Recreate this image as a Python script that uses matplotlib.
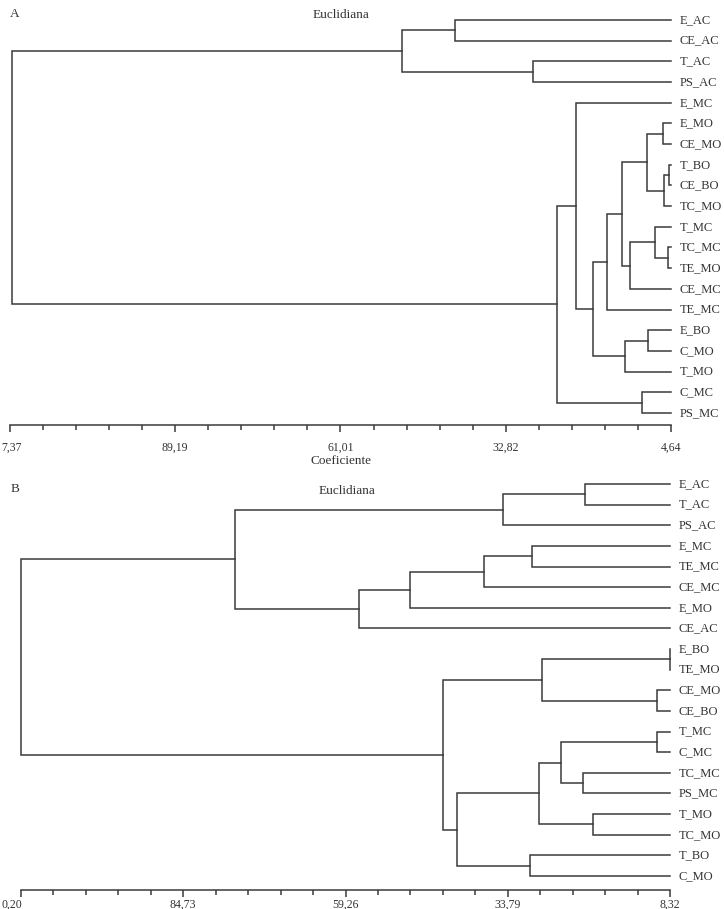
import numpy as np
import matplotlib
matplotlib.use("Agg")
import matplotlib.pyplot as plt
import matplotlib.transforms as mtransforms
from matplotlib.ticker import FixedLocator

plt.rcParams['font.family'] = ['Liberation Serif', 'DejaVu Serif']

COR = '#3a3a3a'
LW = 1.1

# ---------------- Dendrograma A ----------------
folhas_a = ['E_AC', 'CE_AC', 'T_AC', 'PS_AC', 'E_MC', 'E_MO', 'CE_MO', 'T_BO', 'CE_BO', 'TC_MO',
            'T_MC', 'TC_MC', 'TE_MO', 'CE_MC', 'TE_MC', 'E_BO', 'C_MO', 'T_MO', 'C_MC', 'PS_MC']
# (filho 1, filho 2, coeficiente) -> inteiro = indice de uma fusao anterior
fusoes_a = [
    ('E_AC', 'CE_AC', 41.48),   # 0
    ('T_AC', 'PS_AC', 28.18),   # 1
    (0, 1, 50.52),              # 2
    ('E_MO', 'CE_MO', 6.00),    # 3
    ('T_BO', 'CE_BO', 4.98),    # 4
    (4, 'TC_MO', 5.75),         # 5
    (3, 5, 8.73),               # 6
    ('TC_MC', 'TE_MO', 5.07),   # 7
    ('T_MC', 7, 7.37),          # 8
    (8, 'CE_MC', 11.63),        # 9
    (6, 9, 13.05),              # 10
    (10, 'TE_MC', 15.55),       # 11
    ('E_BO', 'C_MO', 8.51),     # 12
    (12, 'T_MO', 12.48),        # 13
    (11, 13, 17.89),            # 14
    ('E_MC', 14, 20.84),        # 15
    ('C_MC', 'PS_MC', 9.64),    # 16
    (15, 16, 24.03),            # 17
    (2, 17, 117.11),            # 18
]
escala_a = [117.37, 89.19, 61.01, 32.82, 4.64]
# o primeiro rotulo aparece cortado na figura original
rotulos_a = ['7,37', '89,19', '61,01', '32,82', '4,64']

# ---------------- Dendrograma B ----------------
folhas_b = ['E_AC', 'T_AC', 'PS_AC', 'E_MC', 'TE_MC', 'CE_MC', 'E_MO', 'CE_AC', 'E_BO', 'TE_MO',
            'CE_MO', 'CE_BO', 'T_MC', 'C_MC', 'TC_MC', 'PS_MC', 'T_MO', 'TC_MO', 'T_BO', 'C_MO']
fusoes_b = [
    ('E_AC', 'T_AC', 21.66),    # 0
    (0, 'PS_AC', 34.46),        # 1
    ('E_MC', 'TE_MC', 30.06),   # 2
    (2, 'CE_MC', 37.44),        # 3
    (3, 'E_MO', 49.21),         # 4
    (4, 'CE_AC', 57.14),        # 5
    (1, 5, 76.53),              # 6
    ('E_BO', 'TE_MO', 8.36),    # 7
    ('CE_MO', 'CE_BO', 10.31),  # 8
    (7, 8, 28.46),              # 9
    ('T_MC', 'C_MC', 10.31),    # 10
    ('TC_MC', 'PS_MC', 21.93),  # 11
    (10, 11, 25.43),            # 12
    ('T_MO', 'TC_MO', 20.36),   # 13
    (12, 13, 28.93),            # 14
    ('T_BO', 'C_MO', 30.30),    # 15
    (14, 15, 41.80),            # 16
    (9, 16, 43.91),             # 17
    (6, 17, 110.15),            # 18
]
escala_b = [110.20, 84.73, 59.26, 33.79, 8.32]
rotulos_b = ['0,20', '84,73', '59,26', '33,79', '8,32']


def desenha(ax, folhas, fusoes, vals, rotulos, pad, x_1o_px):
    x_folha = vals[-1]
    pos = {f: i for i, f in enumerate(folhas)}
    nx, ny = [], []

    def coord(c):
        if isinstance(c, str):
            return x_folha, pos[c]
        return nx[c], ny[c]

    for a, b, h in fusoes:
        xa, ya = coord(a)
        xb, yb = coord(b)
        ax.plot([xa, h, h, xb], [ya, ya, yb, yb], color=COR, lw=LW,
                solid_joinstyle='miter', clip_on=False)
        nx.append(h)
        ny.append((ya + yb) / 2)

    for f, i in pos.items():
        ax.annotate(f, xy=(x_folha, i), xytext=(6, 0), textcoords='offset points',
                    ha='left', va='center', fontsize=9, color='#333333',
                    annotation_clip=False)

    ax.set_xlim(vals[0], vals[-1])
    for s in ['top', 'right', 'left']:
        ax.spines[s].set_visible(False)
    ax.spines['bottom'].set_color(COR)
    ax.spines['bottom'].set_linewidth(LW)
    ax.set_yticks([])
    menores = []
    for v0, v1 in zip(vals[:-1], vals[1:]):
        menores += list(np.linspace(v0, v1, 6)[1:-1])
    ax.xaxis.set_major_locator(FixedLocator(vals))
    ax.xaxis.set_minor_locator(FixedLocator(menores))
    ax.set_xticklabels(rotulos)
    ax.tick_params(axis='x', which='major', length=5, width=LW, color=COR,
                   labelsize=8.5, labelcolor='#333333', pad=pad)
    ax.tick_params(axis='x', which='minor', length=3.5, width=LW, color=COR)
    # primeiro rotulo encostado na borda esquerda da figura
    lab = ax.get_xticklabels()[0]
    lab.set_ha('left')
    x_tick_px = ax.get_position().x0 * W
    lab.set_transform(lab.get_transform() +
                      mtransforms.ScaledTranslation((x_1o_px - x_tick_px) / 100, 0,
                                                    ax.figure.dpi_scale_trans))


W, H = 724, 909
fig = plt.figure(figsize=(W / 100, H / 100), dpi=100)

# painel A: folhas em y = 20 + 20.68 i (px), eixo em 425 px
y0a, dya, eixo_a, topo_a = 20, 20.68, 425, 8
ax_a = fig.add_axes([10 / W, 1 - eixo_a / H, 661 / W, (eixo_a - topo_a) / H])
ax_a.set_ylim((eixo_a - y0a) / dya, (topo_a - y0a) / dya)
desenha(ax_a, folhas_a, fusoes_a, escala_a, rotulos_a, pad=7.0, x_1o_px=1)

# painel B: folhas em y = 484 + 20.63 i (px), eixo em 890 px
y0b, dyb, eixo_b, topo_b = 484, 20.63, 890, 475
ax_b = fig.add_axes([21 / W, 1 - eixo_b / H, 649 / W, (eixo_b - topo_b) / H])
ax_b.set_ylim((eixo_b - y0b) / dyb, (topo_b - y0b) / dyb)
desenha(ax_b, folhas_b, fusoes_b, escala_b, rotulos_b, pad=1.2, x_1o_px=2)

txt = dict(fontsize=9.5, color='#333333', va='center')
fig.text(15 / W, 1 - 14 / H, 'A', ha='center', **txt)
fig.text(341 / W, 1 - 15 / H, 'Euclidiana', ha='center', **txt)
fig.text(341 / W, 1 - 461 / H, 'Coeficiente', ha='center', **txt)
fig.text(15 / W, 1 - 489 / H, 'B', ha='center', **txt)
fig.text(347 / W, 1 - 491 / H, 'Euclidiana', ha='center', **txt)

fig.savefig('out.png', dpi=100)
